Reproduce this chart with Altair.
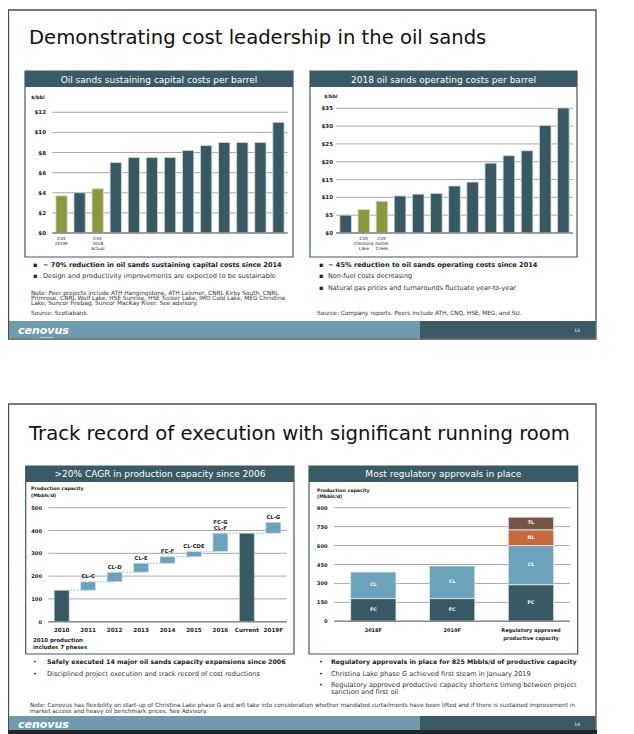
import altair as alt
import pandas as pd

FONT = "DejaVu Sans"
DARK = "#365963"
GREEN = "#8B9A39"
LIGHT = "#6AA3BB"
ORANGE = "#C76A3B"
BROWN = "#755647"
HEAD = "#3A5B65"
GRID = "#a8a8a8"
TXT = "#222222"

# ---------------- data ----------------
# Panel 1: Oil sands sustaining capital costs per barrel
cap_bars = ["CVE 2019F", "Peer A", "CVE 2018 Actual", "Peer B", "Peer C", "Peer D", "Peer E",
            "Peer F", "Peer G", "Peer H", "Peer I", "Peer J", "Peer K"]
cap_values = [3.7, 4.0, 4.4, 7.0, 7.5, 7.5, 7.5, 8.2, 8.7, 9.0, 9.0, 9.0, 11.0]
cap_owner = ["CVE", "Peer", "CVE"] + ["Peer"] * 10
cap_labels = ["CVE\n2019F", "", "CVE\n2018\nActual"] + [""] * 10
cap_ticks = [0, 2, 4, 6, 8, 10, 12]
cap_tick_labels = ["$0", "$2", "$4", "$6", "$8", "$10", "$12"]

# Panel 2: 2018 oil sands operating costs per barrel
op_bars = ["Peer A", "CVE Christina Lake", "CVE Foster Creek", "Peer B", "Peer C", "Peer D",
           "Peer E", "Peer F", "Peer G", "Peer H", "Peer I", "Peer J", "Peer K"]
op_values = [5.0, 6.6, 8.9, 10.4, 10.9, 11.1, 13.2, 14.3, 19.6, 21.7, 23.1, 30.2, 35.1]
op_owner = ["Peer", "CVE", "CVE"] + ["Peer"] * 10
op_labels = ["", "CVE\nChristina\nLake", "CVE\nFoster\nCreek"] + [""] * 10
op_ticks = [0, 5, 10, 15, 20, 25, 30, 35]
op_tick_labels = ["$0", "$5", "$10", "$15", "$20", "$25", "$30", "$35"]

# Panel 3: waterfall of production capacity
wf_cats = ["2010", "2011", "2012", "2013", "2014", "2015", "2016", "Current", "2019F"]
wf_start = [0, 138, 175, 217, 256, 285, 308, 0, 388]
wf_end = [138, 175, 217, 256, 285, 308, 388, 388, 436]
wf_kind = ["total", "step", "step", "step", "step", "step", "step", "total", "step"]
wf_labels_top = ["", "", "", "", "", "", "FC-G", "", ""]
wf_labels = ["", "CL-C", "CL-D", "CL-E", "FC-F", "CL-CDE", "CL-F", "", "CL-G"]
wf_ticks = [0, 100, 200, 300, 400, 500]

# Panel 4: regulatory approvals (stacked)
reg_cats = ["2018F", "2019F", "Regulatory approved productive capacity"]
reg_cat_labels = ["2018F", "2019F", "Regulatory approved\nproductive capacity"]
reg_segments = ["FC", "CL", "NL", "TL"]
reg_fc = [180, 180, 290]
reg_cl = [210, 258, 310]
reg_nl = [0, 0, 125]
reg_tl = [0, 0, 100]
reg_ticks = [0, 150, 300, 450, 600, 750, 900]


def P(v):
    return v - 8


ONE = pd.DataFrame({"k": [0]})


def box(x0, x1, y0, y1, fill=None, stroke=None, sw=1.0):
    kw = {}
    if fill is None:
        kw["fill"] = "white"
        kw["fillOpacity"] = 0
    else:
        kw["fill"] = fill
    if stroke is not None:
        kw["stroke"] = stroke
        kw["strokeWidth"] = sw
    return alt.Chart(ONE).mark_rect(**kw).encode(
        x=alt.value(P(x0)), x2=alt.value(P(x1)), y=alt.value(P(y0)), y2=alt.value(P(y1)))


def label(s, x, y, size, weight="normal", color=TXT, align="left", baseline="middle", style="normal"):
    return alt.Chart(ONE).mark_text(text=s, align=align, baseline=baseline, fontSize=size,
                                    fontWeight=weight, fontStyle=style, color=color, font=FONT).encode(
        x=alt.value(P(x)), y=alt.value(P(y)))


def bar_panel(cats, values, owner, labels, ticks, tick_labels, gx0, gx1, y0px, y1px, ymax,
              pin, pout, tick_x, lab_y):
    df = pd.DataFrame({"bar": cats, "value": values, "owner": owner, "label": labels})
    dt = pd.DataFrame({"v": ticks, "t": tick_labels})
    xs = alt.Scale(domain=cats, range=[P(gx0), P(gx1)], paddingInner=pin, paddingOuter=pout)
    ys = alt.Scale(domain=[0, ymax], range=[P(y0px), P(y1px)], nice=False, zero=True)
    grid = alt.Chart(dt).mark_rule(color=GRID, strokeWidth=1).encode(
        y=alt.Y("v:Q", scale=ys, axis=None), x=alt.value(P(gx0)), x2=alt.value(P(gx1)))
    bars = alt.Chart(df).mark_bar(stroke="#d3dbdb", strokeWidth=0.8).encode(
        x=alt.X("bar:N", scale=xs, axis=None),
        y=alt.Y("value:Q", scale=ys, axis=None),
        color=alt.Color("owner:N", scale=alt.Scale(domain=["CVE", "Peer"], range=[GREEN, DARK]), legend=None))
    zero = alt.Chart(dt[dt.v == 0]).mark_rule(color="#8a8a8a", strokeWidth=1.6).encode(
        y=alt.Y("v:Q", scale=ys, axis=None), x=alt.value(P(gx0)), x2=alt.value(P(gx1)))
    tl = alt.Chart(dt).mark_text(align="right", baseline="middle", fontSize=5.5, fontWeight="bold",
                                 font=FONT, color=TXT).encode(
        y=alt.Y("v:Q", scale=ys, axis=None), x=alt.value(P(tick_x)), text="t:N")
    lab = alt.Chart(df).mark_text(baseline="top", fontSize=4.3, lineBreak="\n", lineHeight=5.2,
                                  font=FONT, color=TXT).encode(
        x=alt.X("bar:N", scale=xs, axis=None), y=alt.value(P(lab_y)), text="label:N")
    return alt.layer(grid, bars, zero, tl, lab)


panel1 = bar_panel(cap_bars, cap_values, cap_owner, cap_labels, cap_ticks, cap_tick_labels,
                   52.3, 287.7, 233, 112.3, 12, 0.375, 0.198, 46, 236.5)
panel2 = bar_panel(op_bars, op_values, op_owner, op_labels, op_ticks, op_tick_labels,
                   336, 573, 233, 108.3, 35, 0.36, 0.2125, 333, 236.5)

# ---- panel 3 waterfall ----
df_wf = pd.DataFrame({"cat": wf_cats, "start": wf_start, "end": wf_end, "kind": wf_kind,
                      "label": wf_labels, "top": wf_labels_top})
df_conn = pd.DataFrame({"a": wf_cats[:-1], "b": wf_cats[1:], "v": wf_end[:-1]})
df_t3 = pd.DataFrame({"v": wf_ticks, "t": [str(t) for t in wf_ticks]})
xs3 = alt.Scale(domain=wf_cats, range=[P(48.3), P(286.7)], paddingInner=0.433, paddingOuter=0.223)
ys3 = alt.Scale(domain=[0, 500], range=[P(621.7), P(507.7)], nice=False, zero=True)
g3 = alt.Chart(df_t3).mark_rule(color=GRID, strokeWidth=1).encode(
    y=alt.Y("v:Q", scale=ys3, axis=None), x=alt.value(P(48.3)), x2=alt.value(P(286.7)))
c3 = alt.Chart(df_conn).mark_rule(color="#a9d0df", strokeWidth=1.5, strokeDash=[1.5, 1.5]).encode(
    x=alt.X("a:N", scale=xs3, axis=None), x2="b:N", y=alt.Y("v:Q", scale=ys3, axis=None))
b3 = alt.Chart(df_wf).mark_bar(stroke="#dfe6e6", strokeWidth=0.6).encode(
    x=alt.X("cat:N", scale=xs3, axis=None),
    y=alt.Y("start:Q", scale=ys3, axis=None), y2="end:Q",
    color=alt.Color("kind:N", scale=alt.Scale(domain=["total", "step"], range=[DARK, LIGHT]), legend=None))
z3 = alt.Chart(df_t3[df_t3.v == 0]).mark_rule(color="#8a8a8a", strokeWidth=1.6).encode(
    y=alt.Y("v:Q", scale=ys3, axis=None), x=alt.value(P(48.3)), x2=alt.value(P(286.7)))
tl3 = alt.Chart(df_t3).mark_text(align="right", baseline="middle", fontSize=5.2, fontWeight="bold",
                                 font=FONT, color=TXT).encode(
    y=alt.Y("v:Q", scale=ys3, axis=None), x=alt.value(P(42)), text="t:N")
bl3 = alt.Chart(df_wf).mark_text(baseline="bottom", dy=-2.5, fontSize=5.3, fontWeight="bold",
                                 font=FONT, color=TXT).encode(
    x=alt.X("cat:N", scale=xs3, axis=None), y=alt.Y("end:Q", scale=ys3, axis=None), text="label:N")
bt3 = alt.Chart(df_wf).mark_text(baseline="bottom", dy=-8.5, fontSize=5.3, fontWeight="bold",
                                 font=FONT, color=TXT).encode(
    x=alt.X("cat:N", scale=xs3, axis=None), y=alt.Y("end:Q", scale=ys3, axis=None), text="top:N")
xl3 = alt.Chart(df_wf).mark_text(baseline="middle", fontSize=5.6, fontWeight="bold", font=FONT, color=TXT).encode(
    x=alt.X("cat:N", scale=xs3, axis=None), y=alt.value(P(630)), text="cat:N")
panel3 = alt.layer(g3, c3, b3, z3, tl3, bl3, bt3, xl3)

# ---- panel 4 stacked ----
rows = []
for i, c in enumerate(reg_cats):
    base = 0
    for seg, vals in zip(reg_segments, [reg_fc, reg_cl, reg_nl, reg_tl]):
        v = vals[i]
        if v > 0:
            rows.append({"cat": c, "seg": seg, "start": base, "end": base + v, "mid": base + v / 2})
        base += v
df_reg = pd.DataFrame(rows)
df_regc = pd.DataFrame({"cat": reg_cats, "lab": reg_cat_labels})
df_t4 = pd.DataFrame({"v": reg_ticks, "t": [str(t) for t in reg_ticks]})
xs4 = alt.Scale(domain=reg_cats, range=[P(334.3), P(570)], paddingInner=0.425, paddingOuter=0.2075)
ys4 = alt.Scale(domain=[0, 900], range=[P(621.3), P(507.7)], nice=False, zero=True)
g4 = alt.Chart(df_t4).mark_rule(color=GRID, strokeWidth=1).encode(
    y=alt.Y("v:Q", scale=ys4, axis=None), x=alt.value(P(334.3)), x2=alt.value(P(570)))
b4 = alt.Chart(df_reg).mark_bar(stroke="#e4eaea", strokeWidth=0.8).encode(
    x=alt.X("cat:N", scale=xs4, axis=None),
    y=alt.Y("start:Q", scale=ys4, axis=None), y2="end:Q",
    color=alt.Color("seg:N", scale=alt.Scale(domain=reg_segments, range=[DARK, LIGHT, ORANGE, BROWN]), legend=None))
z4 = alt.Chart(df_t4[df_t4.v == 0]).mark_rule(color="#8a8a8a", strokeWidth=1.6).encode(
    y=alt.Y("v:Q", scale=ys4, axis=None), x=alt.value(P(334.3)), x2=alt.value(P(570)))
tl4 = alt.Chart(df_t4).mark_text(align="right", baseline="middle", fontSize=5.2, fontWeight="bold",
                                 font=FONT, color=TXT).encode(
    y=alt.Y("v:Q", scale=ys4, axis=None), x=alt.value(P(327.7)), text="t:N")
sl4 = alt.Chart(df_reg).mark_text(baseline="middle", fontSize=4.8, fontWeight="bold", font=FONT, color="white").encode(
    x=alt.X("cat:N", scale=xs4, axis=None), y=alt.Y("mid:Q", scale=ys4, axis=None), text="seg:N")
xl4 = alt.Chart(df_regc).mark_text(baseline="top", fontSize=5.0, fontWeight="bold", lineBreak="\n", lineHeight=8,
                                   font=FONT, color=TXT).encode(
    x=alt.X("cat:N", scale=xs4, axis=None), y=alt.value(P(627.5)), text="lab:N")
panel4 = alt.layer(g4, b4, z4, tl4, sl4, xl4)

# ---------------- decorations ----------------
deco = [
    # slide 1
    box(8.5, 596, 10, 339, stroke="#4d4d4d", sw=1.3),
    box(9, 420, 321, 338.5, fill="#6E9CAE"),
    box(420, 595.5, 321, 338.5, fill="#3C5A63"),
    label("Demonstrating cost leadership in the oil sands", 29, 44, 19.6, baseline="alphabetic", color="#111"),
    box(25, 293, 71, 87, fill=HEAD),
    box(25, 293, 71, 257, stroke=HEAD, sw=1.2),
    label("Oil sands sustaining capital costs per barrel", 159, 79.5, 9, color="white", align="center"),
    label("$/bbl", 31, 98, 4.8, weight="bold"),
    box(310, 577, 71, 87, fill=HEAD),
    box(310, 577, 71, 257, stroke=HEAD, sw=1.2),
    label("2018 oil sands operating costs per barrel", 443.5, 79.5, 9, color="white", align="center"),
    label("$/bbl", 324, 97, 4.8, weight="bold"),
    label("▪", 33, 264.5, 6.5), label("~ 70% reduction in oil sands sustaining capital costs since 2014", 43, 264.5, 6.6, weight="bold"),
    label("▪", 33, 276, 6.5), label("Design and productivity improvements are expected to be sustainable", 43, 276, 6.6, color="#333"),
    label("Note: Peer projects include ATH Hangingstone, ATH Leismer, CNRL Kirby South, CNRL", 31, 292.5, 5.8, color="#333"),
    label("Primrose, CNRL Wolf Lake, HSE Sunrise, HSE Tucker Lake, IMO Cold Lake, MEG Christina", 31, 297.8, 5.8, color="#333"),
    label("Lake, Suncor Firebag, Suncor MacKay River. See advisory.", 31, 303.1, 5.8, color="#333"),
    label("Source: Scotiabank.", 31, 313, 5.8, color="#333"),
    label("▪", 319, 264.5, 6.5), label("~ 45% reduction to oil sands operating costs since 2014", 328, 264.5, 6.6, weight="bold"),
    label("▪", 319, 276, 6.5), label("Non-fuel costs decreasing", 328, 276, 6.5, color="#333"),
    label("▪", 319, 287.5, 6.5), label("Natural gas prices and turnarounds fluctuate year-to-year", 328, 287.5, 6.5, color="#333"),
    label("Source: Company reports. Peers include ATH, CNQ, HSE, MEG, and SU.", 317, 312.5, 5.8, color="#333"),
    label("cenovus", 18, 334, 11, weight="bold", style="italic", color="white", baseline="alphabetic"),
    label("▪ ▪ ▪ ▪ ▪ ▪", 40, 337, 2.2, color="#dfeaee"),
    label("13", 577, 331, 4.5, color="white", align="center"),
    # slide 2
    box(8.5, 596, 404, 740, stroke="#4d4d4d", sw=1.3),
    box(9, 420, 716, 730, fill="#6E9CAE"),
    box(420, 595.5, 716, 730, fill="#3C5A63"),
    box(8, 597, 730, 740, fill="#262626"),
    label("Track record of execution with significant running room", 29, 440, 19.6, baseline="alphabetic", color="#111"),
    box(25.7, 294, 466, 482, fill=HEAD),
    box(25.7, 294, 466, 654, stroke=HEAD, sw=1.2),
    label(">20% CAGR in production capacity since 2006", 160, 474, 9, color="white", align="center"),
    label("Production capacity", 31, 489, 4.7, weight="bold"),
    label("(Mbbls/d)", 31, 495.5, 4.7, weight="bold"),
    label("2010 production", 33, 640, 5.4, weight="bold"),
    label("includes 7 phases", 33, 647.3, 5.4, weight="bold"),
    box(309, 577.7, 466, 482, fill=HEAD),
    box(309, 577.7, 466, 654, stroke=HEAD, sw=1.2),
    label("Most regulatory approvals in place", 443.3, 474, 9, color="white", align="center"),
    label("Production capacity", 317, 491, 4.7, weight="bold"),
    label("(Mbbls/d)", 317, 497, 4.7, weight="bold"),
    label("•", 33, 662, 6.5), label("Safely executed 14 major oil sands capacity expansions since 2006", 47, 662, 6.3, weight="bold"),
    label("•", 33, 674, 6.5), label("Disciplined project execution and track record of cost reductions", 47, 674, 6.6, color="#333"),
    label("•", 319, 662, 6.5), label("Regulatory approvals in place for 825 Mbbls/d of productive capacity", 331, 662, 6.3, weight="bold"),
    label("•", 319, 674, 6.5), label("Christina Lake phase G achieved first steam in January 2019", 331, 674, 6.6, color="#333"),
    label("•", 319, 685, 6.5), label("Regulatory approved productive capacity shortens timing between project", 331, 685, 6.6, color="#333"),
    label("sanction and first oil", 331, 692.3, 6.6, color="#333"),
    label("Note: Cenovus has flexibility on start-up of Christina Lake phase G and will take into consideration whether mandated curtailments have been lifted and if there is sustained improvement in",
          30, 704.5, 5.75, color="#333"),
    label("market access and heavy oil benchmark prices. See Advisory.", 30, 711, 5.75, color="#333"),
    label("cenovus", 18, 727.5, 11, weight="bold", style="italic", color="white", baseline="alphabetic"),
    label("14", 577, 725, 4.5, color="white", align="center"),
]

chart = alt.layer(*deco, panel1, panel2, panel3, panel4).resolve_scale(
    x="independent", y="independent", color="independent"
).properties(
    width=618, height=726, padding=0, background="white",
    autosize=alt.AutoSizeParams(type="none")
).configure_view(strokeWidth=0)

chart.save("out.html", embed_options={"renderer": "svg", "actions": False})
